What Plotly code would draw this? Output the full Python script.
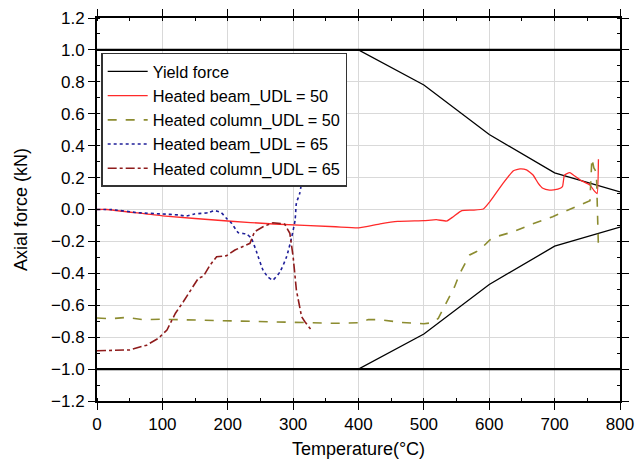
import plotly.graph_objects as go

# ---------------- data ----------------
yield_T = [0, 400, 500, 600, 700, 800, None, 0, 400, 500, 600, 700, 800]
yield_F = [1.0, 1.0, 0.78, 0.47, 0.23, 0.11, None, -1.0, -1.0, -0.78, -0.47, -0.23, -0.11]

limit_T = [0, 800, None, 0, 800]
limit_F = [1.0, 1.0, None, -1.0, -1.0]

beam50_T = [0, 15, 100, 200, 270, 365, 400, 433, 460, 500, 519, 535, 545, 558, 575, 591,
            601, 621, 637, 647, 657, 667, 675, 682, 692, 705, 712, 715, 723, 739, 754,
            760, 765, 767]
beam50_F = [0.0, 0.0, -0.04, -0.072, -0.091, -0.108, -0.115, -0.09, -0.075, -0.07, -0.064,
            -0.072, -0.045, -0.007, -0.004, 0.003, 0.049, 0.164, 0.243, 0.254, 0.248, 0.216,
            0.164, 0.133, 0.122, 0.127, 0.143, 0.216, 0.231, 0.185, 0.154, 0.12, 0.10, 0.315]

col50_T = [0, 20, 45, 70, 99, 150, 201, 250, 303, 364, 400, 415, 433, 463, 500, 512, 522,
           535, 547, 555, 570, 580, 588, 601, 611, 637, 662, 697, 718, 739, 754, 757, 760,
           762, 764, 767]
col50_F = [-0.68, -0.685, -0.676, -0.69, -0.688, -0.692, -0.697, -0.70, -0.707, -0.713,
           -0.71, -0.69, -0.69, -0.707, -0.716, -0.71, -0.682, -0.578, -0.484, -0.40,
           -0.285, -0.265, -0.243, -0.19, -0.17, -0.139, -0.097, -0.045, -0.008, 0.028,
           0.055, 0.32, 0.26, 0.247, 0.22, -0.24]

beam65_T = [0, 20, 63, 100, 124, 137, 149, 170, 180, 190, 198, 206, 216, 229, 236, 244,
            254, 262, 269, 280, 290, 298, 303, 305, 310, 315, 323, 328]
beam65_F = [0.0, 0.0, -0.02, -0.028, -0.034, -0.041, -0.028, -0.02, -0.007, -0.02, -0.055,
            -0.087, -0.145, -0.154, -0.18, -0.265, -0.38, -0.425, -0.442, -0.39, -0.296,
            -0.17, -0.066, 0.039, 0.10, 0.205, 0.27, 0.34]

col65_T = [0, 50, 76, 91, 94, 107, 120, 132, 145, 155, 163, 173, 183, 198, 211, 234, 241,
           254, 269, 287, 295, 300, 305, 313, 318, 327]
col65_F = [-0.885, -0.88, -0.85, -0.818, -0.807, -0.755, -0.65, -0.578, -0.494, -0.431,
           -0.417, -0.348, -0.296, -0.29, -0.254, -0.212, -0.139, -0.108, -0.083, -0.091,
           -0.149, -0.296, -0.505, -0.672, -0.703, -0.751]

x_ticks = [0, 100, 200, 300, 400, 500, 600, 700, 800]
y_ticks = [1.2, 1.0, 0.8, 0.6, 0.4, 0.2, 0.0, -0.2, -0.4, -0.6, -0.8, -1.0, -1.2]
y_tick_labels = ["1.2", "1.0", "0.8", "0.6", "0.4", "0.2", "0.0",
                 "\u22120.2", "\u22120.4", "\u22120.6", "\u22120.8", "\u22121.0", "\u22121.2"]

# ---------------- figure ----------------
FONT = "Liberation Sans, Arial, Helvetica, sans-serif"
fig = go.Figure()

fig.add_trace(go.Scatter(x=limit_T, y=limit_F, mode="lines", showlegend=False,
                         line=dict(color="black", width=2.2), hoverinfo="skip"))
fig.add_trace(go.Scatter(x=yield_T, y=yield_F, mode="lines", name="Yield force",
                         line=dict(color="black", width=1.3)))
fig.add_trace(go.Scatter(x=beam50_T, y=beam50_F, mode="lines", name="Heated beam_UDL = 50",
                         line=dict(color="#ff2a2a", width=1.3, shape="spline", smoothing=0.4)))
fig.add_trace(go.Scatter(x=col50_T, y=col50_F, mode="lines", name="Heated column_UDL = 50",
                         line=dict(color="#8c8c30", width=1.6, dash="dash")))
fig.add_trace(go.Scatter(x=beam65_T, y=beam65_F, mode="lines", name="Heated beam_UDL = 65",
                         line=dict(color="#1f1f99", width=1.6, dash="dot", shape="spline", smoothing=0.5)))
fig.add_trace(go.Scatter(x=col65_T, y=col65_F, mode="lines", name="Heated column_UDL = 65",
                         line=dict(color="#8e1b1b", width=1.6, dash="dashdot")))

axis_common = dict(
    showline=True, linecolor="black", linewidth=2, mirror="allticks",
    showgrid=True, gridcolor="#d9d9d9", gridwidth=1, zeroline=False,
    ticks="outside", ticklen=7, tickwidth=1.2, tickcolor="black",
    tickfont=dict(family=FONT, size=17, color="black"),
    automargin=False,
)

fig.update_xaxes(
    range=[0, 800], tickmode="array", tickvals=x_ticks,
    title=dict(text="Temperature(\u00b0C)", font=dict(family=FONT, size=18, color="black"), standoff=9),
    minor=dict(dtick=50, ticks="inside", ticklen=3, tickcolor="black", showgrid=False),
    **axis_common,
)
fig.update_yaxes(
    range=[-1.2, 1.2], tickmode="array", tickvals=y_ticks, ticktext=y_tick_labels,
    title=dict(text="Axial force (kN)", font=dict(family=FONT, size=18, color="black"), standoff=19),
    minor=dict(dtick=0.1, ticks="inside", ticklen=3, tickcolor="black", showgrid=False),
    **axis_common,
)

fig.update_layout(
    width=637, height=468,
    margin=dict(l=97, r=17, t=18, b=67),
    paper_bgcolor="white", plot_bgcolor="white",
    font=dict(family=FONT, size=16, color="black"),
    legend=dict(
        x=0.008, y=0.909, xanchor="left", yanchor="top",
        bgcolor="white", bordercolor="#333333", borderwidth=1.5,
        font=dict(family=FONT, size=16.3, color="black"),
        tracegroupgap=0, itemwidth=40,
    ),
    showlegend=True,
)

fig.write_html("out.html")
